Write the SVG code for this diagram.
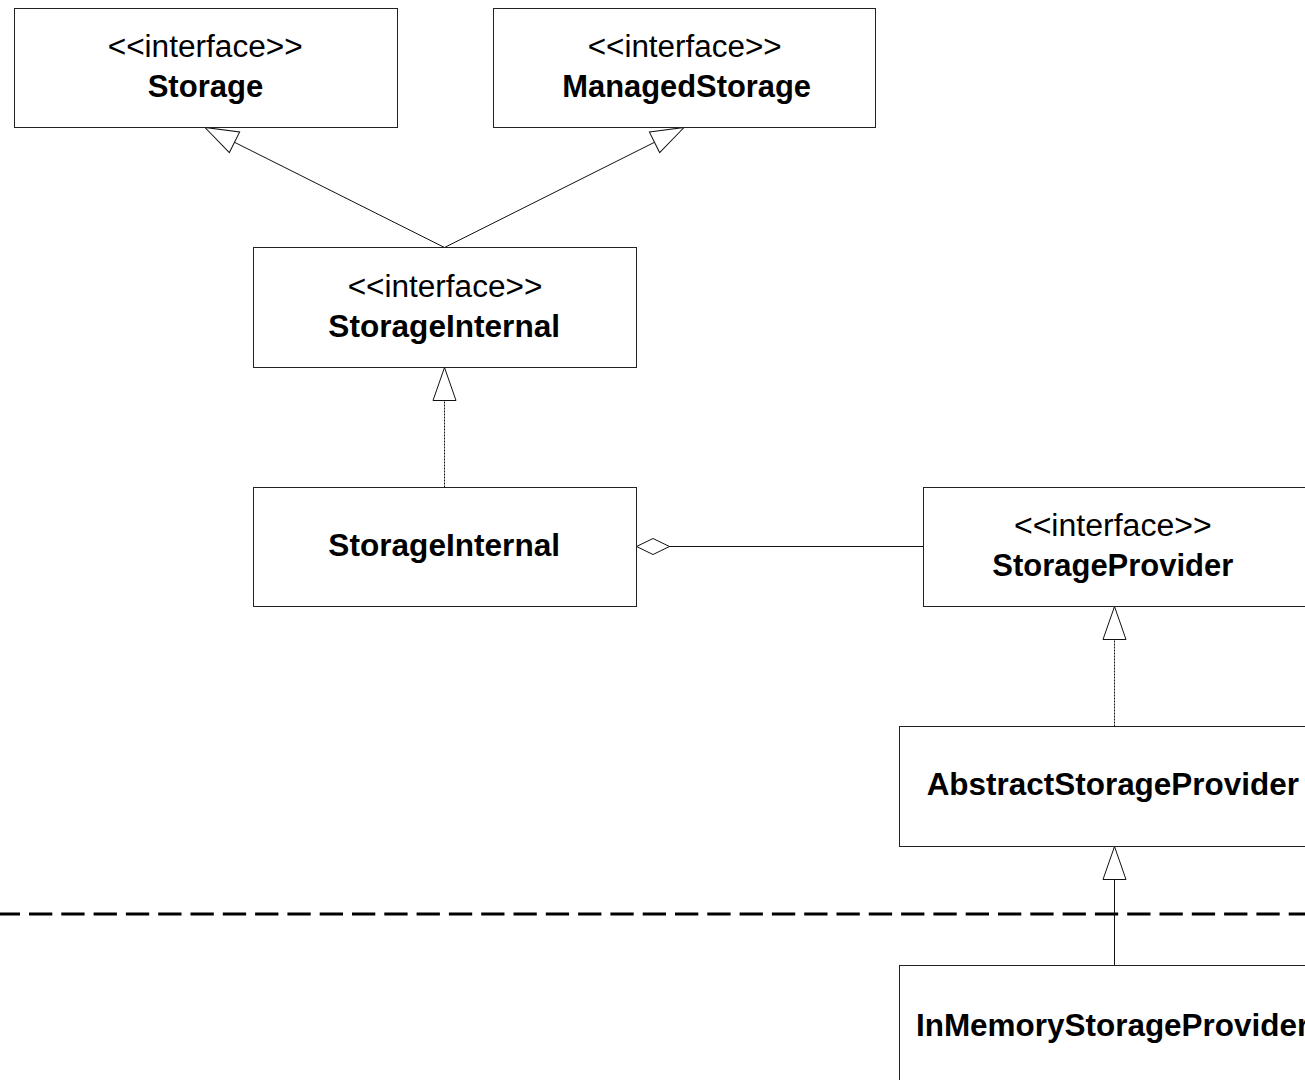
<svg xmlns="http://www.w3.org/2000/svg" width="1305" height="1080" viewBox="0 0 1305 1080">
  <style>
    .box { fill: #ffffff; stroke: #222222; stroke-width: 1; }
    .st { font-family: "Liberation Sans", Arial, sans-serif; font-size: 31px; fill: #000000; text-anchor: middle; }
    .nm { font-family: "Liberation Sans", Arial, sans-serif; font-size: 31px; font-weight: bold; fill: #000000; text-anchor: middle; }
    .edge { fill: none; stroke: #111111; stroke-width: 1; }
    .real { stroke-dasharray: 2 1; }
    .gen { marker-end: url(#hollow); }
    .agg { marker-start: url(#diamond); }
    .sep { fill: none; stroke: #000000; stroke-width: 3; stroke-dasharray: 23.3 9; }
  </style>
  <defs>
    <!-- hollow triangle for generalization / realization -->
    <marker id="hollow" viewBox="-1 -1 35 25" refX="33" refY="11.5" markerWidth="35" markerHeight="25" markerUnits="userSpaceOnUse" orient="auto" overflow="visible">
      <path d="M0,0 L33,11.5 L0,23 Z" fill="#ffffff" stroke="#111111" stroke-width="1"/>
    </marker>
    <!-- hollow diamond for aggregation -->
    <marker id="diamond" viewBox="-1 -1 35 18" refX="0" refY="8" markerWidth="35" markerHeight="18" markerUnits="userSpaceOnUse" orient="auto" overflow="visible">
      <path d="M0,8 L16.5,0 L33,8 L16.5,16 Z" fill="#ffffff" stroke="#111111" stroke-width="1"/>
    </marker>
  </defs>

  <rect width="1305" height="1080" fill="#ffffff"/>

  <!-- package boundary -->
  <line class="sep" x1="-3.3" y1="914" x2="1310" y2="914"/>

  <g id="connectors">
    <line class="edge gen" x1="444.5" y1="247.5" x2="205" y2="127.5"/>
    <line class="edge gen" x1="444.5" y1="247.5" x2="684" y2="127.5"/>
    <line class="edge real gen" x1="444.5" y1="487.5" x2="444.5" y2="367.5"/>
    <line class="edge agg" x1="636.5" y1="546.5" x2="923.5" y2="546.5"/>
    <line class="edge real gen" x1="1114.5" y1="726.5" x2="1114.5" y2="606.5"/>
    <line class="edge gen" x1="1114.5" y1="965.5" x2="1114.5" y2="846.5"/>
  </g>

  <g id="storage">
    <rect class="box" x="14.5" y="8.5" width="383" height="119"/>
    <text class="st" x="205.2" y="56.5" textLength="195" lengthAdjust="spacingAndGlyphs">&lt;&lt;interface&gt;&gt;</text>
    <text class="nm" x="205.5" y="96.5" textLength="115.7" lengthAdjust="spacingAndGlyphs">Storage</text>
  </g>

  <g id="managed-storage">
    <rect class="box" x="493.5" y="8.5" width="382" height="119"/>
    <text class="st" x="684.7" y="56.5" textLength="194" lengthAdjust="spacingAndGlyphs">&lt;&lt;interface&gt;&gt;</text>
    <text class="nm" x="686.7" y="96.5" textLength="248.7" lengthAdjust="spacingAndGlyphs">ManagedStorage</text>
  </g>

  <g id="storage-internal-interface">
    <rect class="box" x="253.5" y="247.5" width="383" height="120"/>
    <text class="st" x="445" y="296.5" textLength="194.7" lengthAdjust="spacingAndGlyphs">&lt;&lt;interface&gt;&gt;</text>
    <text class="nm" x="444.2" y="336.5" textLength="231.7" lengthAdjust="spacingAndGlyphs">StorageInternal</text>
  </g>

  <g id="storage-internal-class">
    <rect class="box" x="253.5" y="487.5" width="383" height="119"/>
    <text class="nm" x="444.2" y="556" textLength="231.7" lengthAdjust="spacingAndGlyphs">StorageInternal</text>
  </g>

  <g id="storage-provider">
    <rect class="box" x="923.5" y="487.5" width="400" height="119"/>
    <text class="st" x="1112.8" y="535.5" textLength="197.7" lengthAdjust="spacingAndGlyphs">&lt;&lt;interface&gt;&gt;</text>
    <text class="nm" x="1112.8" y="575.5" textLength="241" lengthAdjust="spacingAndGlyphs">StorageProvider</text>
  </g>

  <g id="abstract-storage-provider">
    <rect class="box" x="899.5" y="726.5" width="430" height="120"/>
    <text class="nm" x="1112.8" y="794.5" textLength="372.3" lengthAdjust="spacingAndGlyphs">AbstractStorageProvider</text>
  </g>

  <g id="in-memory-storage-provider">
    <rect class="box" x="899.5" y="965.5" width="430" height="130"/>
    <text class="nm" x="1112.6" y="1035.5" textLength="393.3" lengthAdjust="spacingAndGlyphs">InMemoryStorageProvider</text>
  </g>
</svg>
